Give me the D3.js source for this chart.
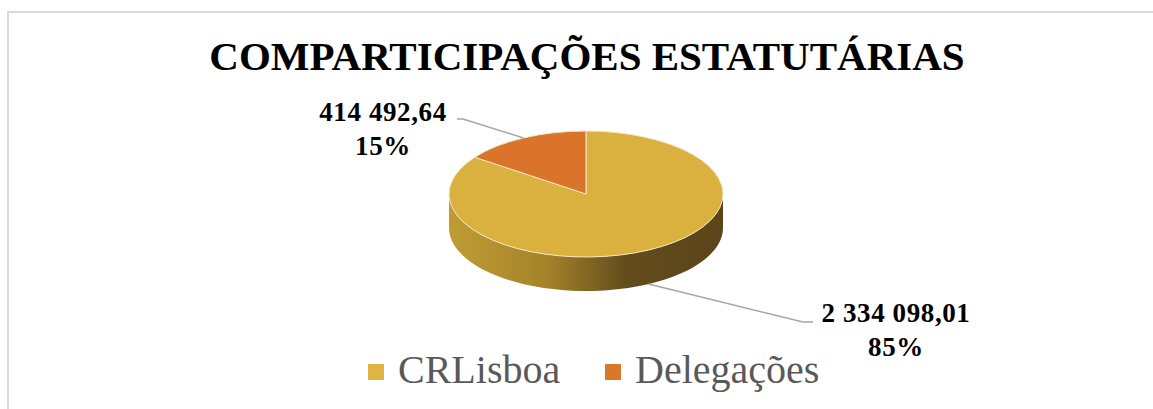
<!DOCTYPE html>
<html>
<head>
<meta charset="utf-8">
<script src="https://cdn.jsdelivr.net/npm/d3@7"></script>
<style>
  body { margin: 0; background: #fff; }
  svg { display: block; }
</style>
</head>
<body>
<div id="chart"></div>
<script>
const svgWidth = 1153;
const svgHeight = 409;

// data
const categories = ["CRLisboa", "Delegações"];
const values = [2334098.01, 414492.64];
const valueLabels = ["2 334 098,01", "414 492,64"];
const colors = ["#dab13e", "#d9742a"];
const legendColors = ["#dfb440", "#da7829"];

const pieCenter = { x: 586, y: 194 };
const rx = 137;
const ry = 63;
const depth = 34;

const svg = d3.select("#chart")
  .append("svg")
  .attr("width", svgWidth)
  .attr("height", svgHeight);

// frame border
svg.append("path")
  .attr("d", `M8,${svgHeight} L8,12 L${svgWidth},12`)
  .attr("fill", "none")
  .attr("stroke", "#d9d9d9")
  .attr("stroke-width", 2);

// title
svg.append("text")
  .attr("x", 587)
  .attr("y", 70)
  .attr("text-anchor", "middle")
  .attr("font-family", "'Liberation Serif', 'Times New Roman', serif")
  .attr("font-weight", "bold")
  .attr("font-size", "41px")
  .attr("fill", "#000")
  .text("COMPARTICIPAÇÕES ESTATUTÁRIAS");

const defs = svg.append("defs");
const grad = defs.append("linearGradient")
  .attr("id", "sideGrad")
  .attr("x1", "0%").attr("x2", "100%")
  .attr("y1", "0%").attr("y2", "0%");
[["0%", "#bf9c33"], ["35%", "#a5842a"], ["65%", "#634c1c"], ["100%", "#5a4419"]]
  .forEach(s => grad.append("stop").attr("offset", s[0]).attr("stop-color", s[1]));

const total = d3.sum(values);
const pie = d3.pie().sort(null).value(d => d.value);
const slices = pie(categories.map((c, i) => ({ name: c, value: values[i], i: i })));

// point on ellipse for angle (0 = top, clockwise)
function pt(a, dy) {
  return [pieCenter.x + rx * Math.sin(a), pieCenter.y - ry * Math.cos(a) + (dy || 0)];
}

function sidePath(a0, a1) {
  const n = 60;
  const top = d3.range(n + 1).map(k => pt(a0 + (a1 - a0) * k / n, 0));
  const bot = d3.range(n + 1).map(k => pt(a1 - (a1 - a0) * k / n, depth));
  return d3.line()(top.concat(bot)) + "Z";
}

// side walls (front half only: PI/2 .. 3PI/2)
const sideG = svg.append("g");
slices.forEach(s => {
  const a0 = Math.max(s.startAngle, Math.PI / 2);
  const a1 = Math.min(s.endAngle, 3 * Math.PI / 2);
  if (a1 > a0) {
    sideG.append("path")
      .attr("d", sidePath(a0, a1))
      .attr("fill", s.data.i === 0 ? "url(#sideGrad)" : "#8a4a1a");
  }
});

// top faces
const arc = d3.arc().innerRadius(0).outerRadius(rx);
const topG = svg.append("g")
  .attr("transform", `translate(${pieCenter.x},${pieCenter.y}) scale(1,${ry / rx})`);
topG.selectAll("path.slice")
  .data(slices)
  .enter()
  .append("path")
  .attr("class", "slice")
  .attr("d", arc)
  .attr("fill", d => colors[d.data.i])
  .attr("stroke", "#f4e6c0")
  .attr("stroke-width", 1)
  .attr("vector-effect", "non-scaling-stroke");

// data labels with leader lines
const fmtPct = d => Math.round(d / total * 100) + "%";
const labelPos = [
  { x: 896, y: 322, lineEnd: [813, 322], bend: [803, 322], onSide: true },
  { x: 383, y: 121, lineEnd: [457, 119], bend: [463, 119], onSide: false }
];

slices.forEach(s => {
  const lp = labelPos[s.data.i];
  const mid = (s.startAngle + s.endAngle) / 2;
  const anchor = lp.onSide ? pt(mid, depth) : pt(mid, 0);
  svg.append("polyline")
    .attr("points", [anchor, lp.bend, lp.lineEnd].map(p => p.join(",")).join(" "))
    .attr("fill", "none")
    .attr("stroke", "#a6a6a6")
    .attr("stroke-width", 1.5);

  const t = svg.append("text")
    .attr("text-anchor", "middle")
    .attr("font-family", "'Liberation Serif', 'Times New Roman', serif")
    .attr("font-weight", "bold")
    .attr("font-size", "27px")
    .attr("letter-spacing", "0.6px")
    .attr("fill", "#000");
  t.append("tspan").attr("x", lp.x).attr("y", lp.y).text(valueLabels[s.data.i]);
  t.append("tspan").attr("x", lp.x).attr("y", lp.y + 34).text(fmtPct(s.data.value));
});

// legend
const legendX = [368, 605];
const legend = svg.selectAll("g.legend")
  .data(categories)
  .enter()
  .append("g")
  .attr("class", "legend")
  .attr("transform", (d, i) => `translate(${legendX[i]}, 364)`);

legend.append("rect")
  .attr("width", 16)
  .attr("height", 16)
  .attr("fill", (d, i) => legendColors[i]);

legend.append("text")
  .attr("x", 30)
  .attr("y", 19)
  .attr("font-family", "'Liberation Serif', 'Times New Roman', serif")
  .attr("font-size", "40px")
  .attr("fill", "#595959")
  .text(d => d);
</script>
</body>
</html>
